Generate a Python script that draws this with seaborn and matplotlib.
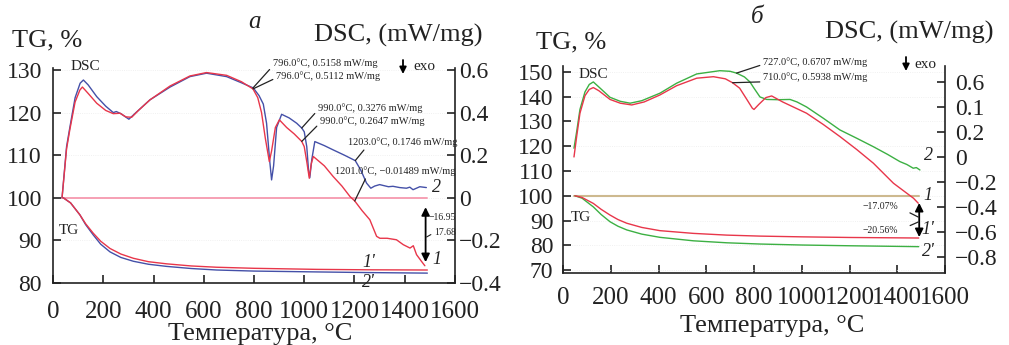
import matplotlib
matplotlib.use('Agg')
import matplotlib.pyplot as plt
import seaborn as sns

# ---------------- Panel a data ----------------
a_dsc1_T = [36, 54, 67, 88, 107, 117, 140, 174, 210, 240, 267, 290, 313, 340, 386, 466, 545, 611, 691, 750,
            796, 815, 830, 845, 861, 870, 885, 901, 930, 960, 990, 1000, 1010, 1020, 1028, 1036, 1080, 1115,
            1150, 1182, 1201, 1230, 1261, 1288, 1301, 1330, 1367, 1394, 1421, 1434, 1447, 1467, 1480]
a_dsc1 = [0.0, 0.23, 0.32, 0.45, 0.506, 0.52, 0.49, 0.444, 0.41, 0.395, 0.397, 0.38, 0.378, 0.41, 0.46, 0.525,
          0.572, 0.588, 0.575, 0.545, 0.5112, 0.47, 0.40, 0.28, 0.17, 0.22, 0.33, 0.366, 0.33, 0.30, 0.2647,
          0.24, 0.17, 0.092, 0.16, 0.194, 0.15, 0.10, 0.055, 0.006, -0.01489, -0.06, -0.103, -0.181, -0.19,
          -0.19, -0.197, -0.22, -0.236, -0.225, -0.267, -0.299, -0.319]
a_dsc2_T = [36, 54, 67, 88, 108, 121, 140, 174, 210, 240, 252, 270, 302, 330, 386, 466, 545, 611, 691, 750,
            797, 820, 837, 850, 862, 870, 878, 890, 910, 940, 970, 990, 1000, 1010, 1017, 1022, 1030, 1042,
            1080, 1115, 1160, 1203, 1225, 1248, 1265, 1280, 1300, 1314, 1335, 1353, 1380, 1407, 1420, 1433,
            1460, 1486]
a_dsc2 = [0.0, 0.24, 0.33, 0.47, 0.538, 0.553, 0.53, 0.475, 0.43, 0.40, 0.405, 0.395, 0.369, 0.40, 0.46, 0.52,
          0.569, 0.585, 0.569, 0.54, 0.5158, 0.48, 0.44, 0.35, 0.18, 0.084, 0.15, 0.33, 0.392, 0.375, 0.35,
          0.3276, 0.31, 0.24, 0.13, 0.094, 0.18, 0.264, 0.245, 0.225, 0.20, 0.1746, 0.13, 0.069, 0.045, 0.055,
          0.062, 0.058, 0.052, 0.054, 0.048, 0.045, 0.05, 0.038, 0.052, 0.048]
a_tg_T = [41, 70, 107, 130, 160, 190, 227, 270, 320, 380, 452, 550, 651, 800, 1049, 1250, 1490]
a_tg1 = [100, 98.8, 96.0, 93.9, 91.7, 89.8, 88.1, 86.8, 85.8, 85.0, 84.5, 84.0, 83.7, 83.45, 83.2, 83.1, 83.05]
a_tg2 = [100, 98.8, 96.0, 93.7, 91.3, 89.1, 87.3, 86.0, 85.1, 84.4, 83.9, 83.4, 83.05, 82.8, 82.6, 82.45, 82.32]
a_base_T = [36, 1490]
a_base = [100, 100]

# ---------------- Panel б data ----------------
b_dsc1_T = [46, 57, 71, 92, 110, 127, 150, 197, 240, 288, 340, 406, 476, 560, 630, 680, 710, 740, 770, 793,
            800, 820, 850, 874, 920, 1020, 1090, 1160, 1230, 1300, 1384, 1440, 1468, 1488]
b_dsc1 = [0.0, 0.16, 0.35, 0.49, 0.54, 0.555, 0.53, 0.46, 0.43, 0.416, 0.44, 0.496, 0.57, 0.63, 0.642, 0.625,
          0.5938, 0.55, 0.46, 0.39, 0.38, 0.42, 0.475, 0.488, 0.44, 0.35, 0.26, 0.163, 0.06, -0.05, -0.21,
          -0.29, -0.33, -0.37]
b_dsc2_T = [46, 57, 71, 92, 110, 127, 150, 197, 240, 281, 330, 406, 476, 560, 657, 700, 727, 760, 783, 800,
            825, 853, 900, 951, 980, 1020, 1090, 1160, 1230, 1300, 1360, 1411, 1440, 1467, 1480, 1495]
b_dsc2 = [0.07, 0.2, 0.38, 0.52, 0.58, 0.60, 0.56, 0.477, 0.445, 0.43, 0.45, 0.51, 0.59, 0.664, 0.69, 0.685,
          0.6707, 0.64, 0.60, 0.55, 0.48, 0.46, 0.458, 0.46, 0.44, 0.40, 0.31, 0.216, 0.15, 0.082, 0.02,
          -0.037, -0.06, -0.09, -0.085, -0.104]
b_tg_T = [50, 80, 127, 160, 197, 230, 267, 330, 406, 546, 686, 825, 1000, 1200, 1490]
b_tg1 = [100, 99.3, 96.9, 94.5, 92.2, 90.4, 88.9, 87.2, 85.9, 84.8, 84.1, 83.7, 83.4, 83.15, 82.93]
b_tg2 = [100, 99.0, 95.5, 92.4, 89.5, 87.7, 86.2, 84.5, 83.2, 81.8, 81.0, 80.5, 80.1, 79.8, 79.44]
b_base_T = [46, 1490]
b_base = [100, 100]

# ---------------- ticks ----------------
x_ticks = [0, 200, 400, 600, 800, 1000, 1200, 1400, 1600]
a_tg_ticks = [80, 90, 100, 110, 120, 130]
a_dsc_ticks = [0.6, 0.4, 0.2, 0, -0.2, -0.4]
a_dsc_labels = ['0.6', '0.4', '0.2', '0', '\u22120.2', '\u22120.4']
b_tg_ticks = [70, 80, 90, 100, 110, 120, 130, 140, 150]
b_dsc_ticks = [0.6, 0.4, 0.2, 0, -0.2, -0.4, -0.6, -0.8]
b_dsc_labels = ['0.6', '0.1', '0.2', '0', '\u22120.2', '\u22120.4', '\u22120.6', '\u22120.8']

RED = '#e8364a'
BLUE = '#4450a8'
GREEN = '#3cb043'
PINK = '#f6a0b4'
TAN = '#cdb98f'
INK = '#222222'
SERIF = ['Liberation Serif', 'DejaVu Serif']
LW = 1.0

sns.set_theme(style='ticks')
plt.rcParams['font.family'] = SERIF
plt.rcParams['font.serif'] = SERIF
plt.rcParams['axes.unicode_minus'] = True

W, H = 1009, 345
fig = plt.figure(figsize=(W / 100, H / 100), dpi=100)

axA = fig.add_axes([53 / W, 1 - 283 / H, 402 / W, 215 / H])
axB = fig.add_axes([563 / W, 1 - 273 / H, 382 / W, 207 / H])
axA2 = axA.twinx()
axB2 = axB.twinx()


def style(ax, ax2, lpad, rpad, xpad):
    ax.spines['top'].set_visible(False)
    ax.spines['right'].set_visible(False)
    for s in ['top', 'left', 'bottom']:
        ax2.spines[s].set_visible(False)
    for s in [ax.spines['left'], ax.spines['bottom'], ax2.spines['right']]:
        s.set_linewidth(1.2)
        s.set_color(INK)
    ax.tick_params(axis='both', direction='in', length=6, width=1.2, colors=INK)
    ax.tick_params(axis='y', pad=lpad, labelsize=17)
    ax.tick_params(axis='x', pad=xpad, labelsize=18)
    ax2.tick_params(axis='y', direction='in', length=6, width=1.2, labelsize=17, colors=INK, pad=rpad)
    for lbl in ax.get_xticklabels() + ax.get_yticklabels() + ax2.get_yticklabels():
        lbl.set_fontfamily(SERIF)
    ax.grid(axis='y', color='#ececec', lw=0.6, ls=':')
    ax.set_xlabel('')
    ax.set_ylabel('')
    ax2.set_ylabel('')


# ---- Panel a curves ----
sns.lineplot(x=a_base_T, y=a_base, ax=axA, color=PINK, lw=1.4)
sns.lineplot(x=a_tg_T, y=a_tg2, ax=axA, color=BLUE, lw=LW)
sns.lineplot(x=a_tg_T, y=a_tg1, ax=axA, color=RED, lw=LW)
sns.lineplot(x=a_dsc2_T, y=a_dsc2, ax=axA2, color=BLUE, lw=LW)
sns.lineplot(x=a_dsc1_T, y=a_dsc1, ax=axA2, color=RED, lw=LW)

axA.set_xlim(0, 1600)
axA.set_ylim(80, 130.47)
axA2.set_ylim(-0.4, 0.6094)
axA.set_xticks(x_ticks)
axA.set_xticklabels([str(t) for t in x_ticks])
axA.set_yticks(a_tg_ticks)
axA.set_yticklabels([str(t) for t in a_tg_ticks])
axA2.set_yticks(a_dsc_ticks)
axA2.set_yticklabels(a_dsc_labels)
style(axA, axA2, 8, 3, 13)

# ---- Panel б curves ----
sns.lineplot(x=b_base_T, y=b_base, ax=axB, color=TAN, lw=1.5)
sns.lineplot(x=b_tg_T, y=b_tg2, ax=axB, color=GREEN, lw=LW)
sns.lineplot(x=b_tg_T, y=b_tg1, ax=axB, color=RED, lw=LW)
sns.lineplot(x=b_dsc2_T, y=b_dsc2, ax=axB2, color=GREEN, lw=LW)
sns.lineplot(x=b_dsc1_T, y=b_dsc1, ax=axB2, color=RED, lw=LW)

axB.set_xlim(0, 1600)
axB.set_ylim(68.8, 152.4)
axB2.set_ylim(-0.928, 0.7275)
axB.set_xticks(x_ticks)
axB.set_xticklabels([str(t) for t in x_ticks])
axB.set_yticks(b_tg_ticks)
axB.set_yticklabels([str(t) for t in b_tg_ticks])
axB2.set_yticks(b_dsc_ticks)
axB2.set_yticklabels(b_dsc_labels)
style(axB, axB2, 7, 7, 10)

# ---- annotations with leader lines ----
ann_fs = 7.5


def leader(ax, txt, xy, xytext, relpos):
    ax.annotate(txt, xy=xy, xytext=xytext, fontsize=ann_fs, ha='left', va='center', color=INK,
                annotation_clip=False,
                arrowprops=dict(arrowstyle='-', color=INK, lw=0.9, relpos=relpos, shrinkA=0, shrinkB=0))


leader(axA2, '796.0\u00b0C, 0.5158 mW/mg', (796, 0.5158), (875, 0.633), (0.0, 0.2))
leader(axA2, '796.0\u00b0C, 0.5112 mW/mg', (796, 0.5112), (888, 0.572), (0.0, 0.3))
leader(axA2, '990.0\u00b0C, 0.3276 mW/mg', (990, 0.3276), (1055, 0.422), (0.0, 0.3))
leader(axA2, '990.0\u00b0C, 0.2647 mW/mg', (990, 0.2647), (1063, 0.361), (0.0, 0.3))
leader(axA2, '1203.0\u00b0C, 0.1746 mW/mg', (1203, 0.1746), (1174, 0.2625), (0.17, 0.0))
leader(axA2, '1201.0\u00b0C, \u22120.01489 mW/mg', (1201, -0.01489), (1122, 0.1266), (0.27, 0.1))
leader(axB2, '727.0\u00b0C, 0.6707 mW/mg', (727, 0.6707), (838, 0.76), (0.0, 0.25))
leader(axB2, '710.0\u00b0C, 0.5938 mW/mg', (710, 0.5938), (838, 0.64), (0.0, 0.0))

# DSC / TG labels inside
axA.text(127, 130.9, 'DSC', fontsize=11, ha='center', va='center', color=INK)
axA.text(62, 92.4, 'TG', fontsize=11, ha='center', va='center', color=INK)
axB.text(126, 148.8, 'DSC', fontsize=11, ha='center', va='center', color=INK)
axB.text(75, 91.4, 'TG', fontsize=11, ha='center', va='center', color=INK)

# curve number labels
cl = dict(fontsize=13, style='italic', ha='center', va='center', color=INK)
axA2.text(1528, 0.047, '2', **cl)
axA.text(1528, 85.4, '1', **cl)
axA.text(1258, 84.9, "1'", **cl)
axA.text(1254, 80.2, "2'", **cl)
axB.text(1529, 116.1, '2', **cl)
axB.text(1529, 99.9, '1', **cl)
axB.text(1529, 86.2, "1'", **cl)
axB.text(1529, 77.3, "2'", **cl)

# mass-loss double arrows
dbl = dict(arrowstyle='<|-|>', color='black', lw=1.3, mutation_scale=12, shrinkA=0, shrinkB=0)
axA.annotate('', xy=(1483, 84.9), xytext=(1483, 97.8), arrowprops=dbl)
axA.text(1495, 95.3, '\u221216.95', fontsize=7, ha='left', va='center', color=INK)
axA.annotate('17.68', xy=(1487, 90.8), xytext=(1517, 91.8), fontsize=7, ha='left', va='center',
             color=INK, annotation_clip=False,
             arrowprops=dict(arrowstyle='-', color=INK, lw=0.8, relpos=(0, 0.5), shrinkA=0, shrinkB=0))
axB.annotate('', xy=(1492, 83.3), xytext=(1492, 97.1), arrowprops=dbl)
lb = dict(arrowstyle='-', color=INK, lw=0.9, relpos=(1, 0.5), shrinkA=7, shrinkB=0)
axB.annotate('\u221217.07%', xy=(1488, 91.4), xytext=(1403, 95.5), fontsize=7, ha='right', va='center',
             color=INK, arrowprops=lb)
axB.annotate('\u221220.56%', xy=(1488, 89.4), xytext=(1403, 85.8), fontsize=7, ha='right', va='center',
             color=INK, arrowprops=lb)

# exo arrows
exo_arrow = dict(arrowstyle='-|>', color='black', lw=1.3, mutation_scale=10, shrinkA=0, shrinkB=0)
fig.add_artist(matplotlib.patches.FancyArrowPatch((403 / W, 1 - 60 / H), (403 / W, 1 - 74 / H),
                                                  transform=fig.transFigure, **exo_arrow))
fig.text(413 / W, 1 - 67 / H, 'exo', fontsize=11, ha='left', va='center', color=INK)
fig.add_artist(matplotlib.patches.FancyArrowPatch((906 / W, 1 - 57 / H), (906 / W, 1 - 71 / H),
                                                  transform=fig.transFigure, **exo_arrow))
fig.text(914 / W, 1 - 64 / H, 'exo', fontsize=11, ha='left', va='center', color=INK)

# axis titles
fig.text(47 / W, 1 - 40 / H, 'TG, %', fontsize=19, ha='center', va='center', color=INK)
fig.text(398 / W, 1 - 35 / H, 'DSC, (mW/mg)', fontsize=19, ha='center', va='center', color=INK)
fig.text(571 / W, 1 - 42 / H, 'TG, %', fontsize=19, ha='center', va='center', color=INK)
fig.text(909 / W, 1 - 32 / H, 'DSC, (mW/mg)', fontsize=19, ha='center', va='center', color=INK)
fig.text(255 / W, 1 - 22 / H, 'a', fontsize=18, style='italic', ha='center', va='center', color=INK)
fig.text(757 / W, 1 - 17 / H, '\u0431', fontsize=18, style='italic', ha='center', va='center', color=INK)
fig.text(260 / W, 1 - 334 / H, '\u0422\u0435\u043c\u043f\u0435\u0440\u0430\u0442\u0443\u0440\u0430, \u00b0C',
         fontsize=19, ha='center', va='center', color=INK)
fig.text(772 / W, 1 - 326 / H, '\u0422\u0435\u043c\u043f\u0435\u0440\u0430\u0442\u0443\u0440\u0430, \u00b0C',
         fontsize=19, ha='center', va='center', color=INK)

fig.savefig('out.png', dpi=100)
